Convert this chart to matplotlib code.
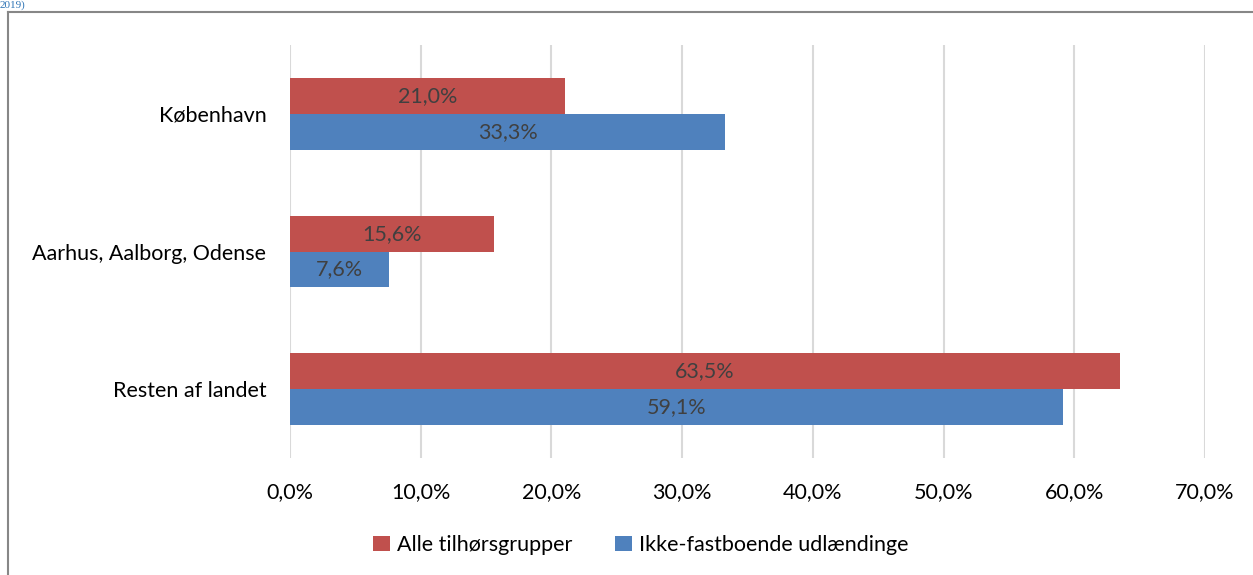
import matplotlib
matplotlib.use("Agg")
import matplotlib.pyplot as plt
from matplotlib.lines import Line2D
import numpy as np

categories = ["København", "Aarhus, Aalborg, Odense", "Resten af landet"]
series_names = ["Alle tilhørsgrupper", "Ikke-fastboende udlændinge"]
alle = [21.0, 15.6, 63.5]
ikke = [33.3, 7.6, 59.1]
xticks = [0, 10, 20, 30, 40, 50, 60, 70]

RED = "#C0504D"
BLUE = "#4F81BD"
TXT = "#404040"
FS = 15.5

plt.rcParams['font.family'] = ['Lato', 'DejaVu Sans']

fig = plt.figure(figsize=(12.53, 5.75), dpi=100)
ax = fig.add_axes([290/1253, 1-458/575, (1205-290)/1253, (458-45)/575])

y = np.arange(len(categories))
h = 0.26
ax.barh(y - h/2, alle, height=h, color=RED, label=series_names[0])
ax.barh(y + h/2, ikke, height=h, color=BLUE, label=series_names[1])

def fmt(v):
    return f"{v:.1f}%".replace(".", ",")

for yi, v in zip(y, alle):
    ax.text(v/2, yi - h/2, fmt(v), ha="center", va="center", fontsize=FS, color=TXT)
for yi, v in zip(y, ikke):
    ax.text(v/2, yi + h/2, fmt(v), ha="center", va="center", fontsize=FS, color=TXT)

ax.set_xlim(0, 70)
ax.set_ylim(2.5, -0.5)
ax.set_xticks(xticks)
ax.set_xticklabels([fmt(t) for t in xticks], fontsize=FS, color="black")
ax.set_yticks(y)
ax.set_yticklabels(categories, fontsize=FS, color="black")
ax.tick_params(axis="both", length=0)
ax.tick_params(axis="x", pad=17)
ax.tick_params(axis="y", pad=17)
ax.grid(axis="x", color="#D9D9D9", linewidth=1.5)
ax.set_axisbelow(True)
for s in ax.spines.values():
    s.set_visible(False)

leg = fig.legend(loc="center", bbox_to_anchor=(641/1253, 1-545/575), ncol=2, frameon=False,
                 fontsize=FS, handlelength=0.75, handleheight=0.75, columnspacing=2.0, handletextpad=0.35)

# outer frame
fig.add_artist(Line2D([8/1253, 1], [1-12/575, 1-12/575], color="#878787", linewidth=1.5, transform=fig.transFigure))
fig.add_artist(Line2D([8/1253, 8/1253], [0, 1-12/575], color="#878787", linewidth=1.5, transform=fig.transFigure))
fig.text(0.0, 1.0, "2019)", fontsize=8, color="#2E74B5", family="Liberation Serif", va="top", ha="left")

fig.savefig("out.png", dpi=100)
